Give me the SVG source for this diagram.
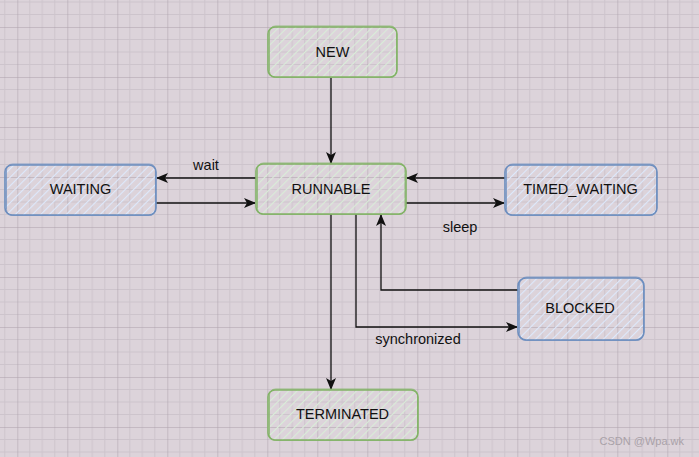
<svg xmlns="http://www.w3.org/2000/svg" width="699" height="457" viewBox="0 0 699 457">
<style>
  .lbl{font-family:"Liberation Sans",Arial,sans-serif;font-size:14.5px;fill:#111;text-anchor:middle;dominant-baseline:central}
  .elbl{font-family:"Liberation Sans",Arial,sans-serif;font-size:14.5px;fill:#111;text-anchor:middle;dominant-baseline:central}
  .g{stroke:#82b366;fill:url(#hg)}
  .b{stroke:#6c8ebf;fill:url(#hb)}
  .g2{stroke:#82b366;fill:none}
  .b2{stroke:#6c8ebf;fill:none}
  .box{stroke-width:1.6}
  .box2{stroke-width:1;stroke-opacity:.75}
  .edge{stroke:#111;stroke-width:1.3;fill:none}
</style>
<defs>
  <pattern id="grid" patternUnits="userSpaceOnUse" x="17.3" y="27" width="50" height="50">
    <path d="M12.5,0V50M25,0V50M37.5,0V50M0,12.5H50M0,25H50M0,37.5H50" stroke="#cdc4cc" stroke-width="1" fill="none"/>
    <path d="M0,0V50M0,0H50" stroke="#ab9faa" stroke-width="1" fill="none"/>
  </pattern>
  <pattern id="hg" patternUnits="userSpaceOnUse" width="6" height="6" patternTransform="rotate(45)">
    <line x1="0" y1="0" x2="0" y2="6" stroke="#d9ecd8" stroke-width="2.2"/>
  </pattern>
  <pattern id="hb" patternUnits="userSpaceOnUse" width="6" height="6" patternTransform="rotate(45)">
    <line x1="0" y1="0" x2="0" y2="6" stroke="#dde9fc" stroke-width="2.2"/>
  </pattern>
  <marker id="arr" markerUnits="userSpaceOnUse" markerWidth="12" markerHeight="12" viewBox="0 0 12 12" refX="11" refY="6" orient="auto">
    <path d="M0,1 L12,6 L0,11 L3,6 Z" fill="#111"/>
  </marker>
</defs>
<rect width="699" height="457" fill="#dcd3da"/>
<rect width="699" height="457" fill="url(#grid)"/>

<g id="edges">
  <path class="edge" d="M331,78 L331,163" marker-end="url(#arr)"/>
  <path class="edge" d="M256,178 L157,178" marker-end="url(#arr)"/>
  <path class="edge" d="M156,203 L255,203" marker-end="url(#arr)"/>
  <path class="edge" d="M505,178 L407,178" marker-end="url(#arr)"/>
  <path class="edge" d="M406,203 L504,203" marker-end="url(#arr)"/>
  <path class="edge" d="M331,214 L331,389" marker-end="url(#arr)"/>
  <path class="edge" d="M356,214 L356,327 L517,327" marker-end="url(#arr)"/>
  <path class="edge" stroke="#333" d="M518,290 L381,290 L381,215" marker-end="url(#arr)"/>
  <text class="elbl" x="206" y="165">wait</text>
  <text class="elbl" x="460" y="227">sleep</text>
  <text class="elbl" x="418" y="339">synchronized</text>
</g>

<g id="NEW">
  <rect class="g box" x="268" y="27" width="129" height="50" rx="7"/>
  <rect class="g2 box2" x="269.5" y="26" width="127" height="51.5" rx="6"/>
  <text class="lbl" x="332.5" y="52">NEW</text>
</g>
<g id="RUNNABLE">
  <rect class="g box" x="256" y="164" width="150" height="50" rx="7"/>
  <rect class="g2 box2" x="257.5" y="163" width="147.5" height="51.5" rx="6"/>
  <text class="lbl" x="331" y="189">RUNNABLE</text>
</g>
<g id="WAITING">
  <rect class="b box" x="5" y="165" width="151" height="50" rx="7"/>
  <rect class="b2 box2" x="6.5" y="164" width="149" height="51.5" rx="6"/>
  <text class="lbl" x="80.5" y="189">WAITING</text>
</g>
<g id="TIMED_WAITING">
  <rect class="b box" x="505" y="165" width="152" height="50" rx="7"/>
  <rect class="b2 box2" x="506.5" y="164" width="150" height="51.5" rx="6"/>
  <text class="lbl" x="580.5" y="189">TIMED_WAITING</text>
</g>
<g id="BLOCKED">
  <rect class="b box" x="518" y="278" width="126" height="62" rx="8"/>
  <rect class="b2 box2" x="519.5" y="277" width="124" height="63.5" rx="7"/>
  <text class="lbl" x="580" y="308">BLOCKED</text>
</g>
<g id="TERMINATED">
  <rect class="g box" x="268" y="390" width="150" height="50" rx="7"/>
  <rect class="g2 box2" x="269.5" y="389" width="148" height="51.5" rx="6"/>
  <text class="lbl" x="342.5" y="414">TERMINATED</text>
</g>
<text x="684" y="441" font-family="'Liberation Sans',Arial,sans-serif" font-size="11px" fill="#a9a1a8" text-anchor="end" dominant-baseline="central">CSDN @Wpa.wk</text>
</svg>
